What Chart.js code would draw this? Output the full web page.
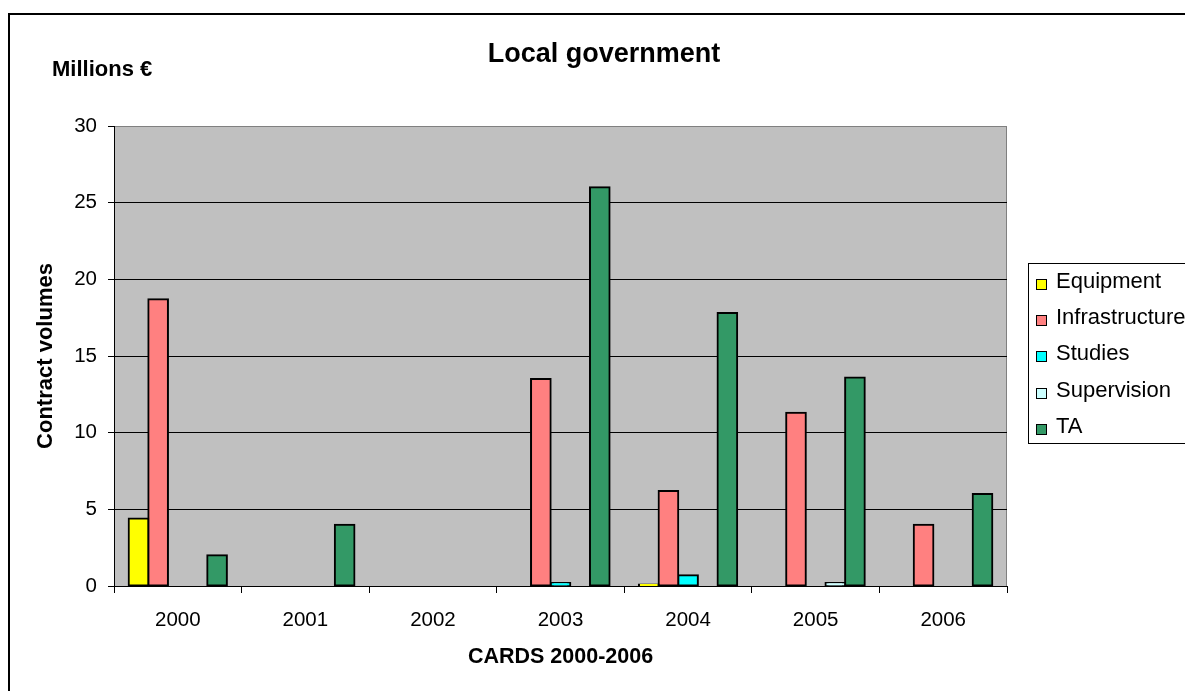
<!DOCTYPE html>
<html>
<head>
<meta charset="utf-8">
<title>Local government</title>
<script src="https://cdn.jsdelivr.net/npm/chart.js@4/dist/chart.umd.min.js"></script>
<style>
  html, body { margin: 0; padding: 0; background: #ffffff; }
  #wrap { width: 1185px; height: 691px; position: relative; }
</style>
</head>
<body>
<div id="wrap"><canvas id="chart" width="1185" height="691"></canvas></div>
<script>
// Contract volumes by year, millions of euros (null = no contract)
const categories = ['2000', '2001', '2002', '2003', '2004', '2005', '2006'];
const equipment      = [4.4, null, null, null, 0.1, null, null];
const infrastructure = [18.7, null, null, 13.5, 6.2, 11.3, 4.0];
const studies        = [null, null, null, 0.2, 0.7, null, null];
const supervision    = [null, null, null, null, null, 0.2, null];
const ta             = [2.0, 4.0, null, 26.0, 17.8, 13.6, 6.0];

const seriesNames  = ['Equipment', 'Infrastructure', 'Studies', 'Supervision', 'TA'];
const seriesValues = [equipment, infrastructure, studies, supervision, ta];
const seriesColors = ['#FFFF00', '#FF8080', '#00FFFF', '#CCFFFF', '#339966'];

const yTicks = { min: 0, max: 30, step: 5 };

const FONT = "'Liberation Sans', Arial, sans-serif";

// Page frame, plot background, title, unit label and legend box
const decorations = {
  id: 'decorations',
  beforeDraw(chart) {
    const { ctx, chartArea: a } = chart;
    ctx.save();
    ctx.fillStyle = '#ffffff';
    ctx.fillRect(0, 0, chart.width, chart.height);
    ctx.fillStyle = '#C0C0C0';
    ctx.fillRect(a.left, a.top, a.right - a.left, a.bottom - a.top);
    // plot border on the right
    ctx.strokeStyle = '#808080';
    ctx.lineWidth = 1;
    ctx.beginPath();
    ctx.moveTo(Math.round(a.right) - 0.5, a.top);
    ctx.lineTo(Math.round(a.right) - 0.5, a.bottom);
    ctx.stroke();
    ctx.restore();
  },
  afterDraw(chart) {
    const { ctx } = chart;
    ctx.save();
    // outer frame
    ctx.strokeStyle = '#000000';
    ctx.lineWidth = 2;
    ctx.strokeRect(9, 14, 1200, 700);

    // title
    ctx.fillStyle = '#000000';
    ctx.textAlign = 'center';
    ctx.textBaseline = 'alphabetic';
    ctx.font = 'bold 27px ' + FONT;
    ctx.fillText('Local government', 604, 62);

    // unit label
    ctx.textAlign = 'left';
    ctx.font = 'bold 22px ' + FONT;
    ctx.fillText('Millions €', 52, 76);

    // legend
    ctx.lineWidth = 1;
    ctx.strokeStyle = '#000000';
    ctx.strokeRect(1028.5, 263.5, 200, 180);
    ctx.font = '22px ' + FONT;
    ctx.textBaseline = 'middle';
    chart.data.datasets.forEach((ds, i) => {
      const cy = 281.5 + i * 36.4;
      const top = Math.round(cy - 3) + 0.5;
      ctx.fillStyle = ds.backgroundColor;
      ctx.fillRect(1036.5, top, 10, 10);
      ctx.strokeStyle = '#000000';
      ctx.strokeRect(1036.5, top, 10, 10);
      ctx.fillStyle = '#000000';
      ctx.fillText(ds.label, 1056, cy);
    });
    ctx.restore();
  }
};

const datasets = seriesNames.map((name, i) => ({
  label: name,
  data: seriesValues[i],
  backgroundColor: seriesColors[i],
  borderColor: '#000000',
  borderWidth: 2,
  borderSkipped: false,
  inflateAmount: 1,
  categoryPercentage: 0.77,
  barPercentage: 1.0
}));

new Chart(document.getElementById('chart'), {
  type: 'bar',
  data: { labels: categories, datasets },
  options: {
    responsive: false,
    animation: false,
    layout: { padding: { top: 126, right: 178, left: 0, bottom: 0 } },
    plugins: {
      legend: { display: false },
      title: { display: false },
      tooltip: { enabled: false }
    },
    scales: {
      x: {
        grid: {
          offset: true,
          drawOnChartArea: false,
          drawTicks: true,
          tickLength: 7,
          tickColor: '#000000',
          color: '#000000'
        },
        border: { display: true, color: '#000000', width: 1 },
        ticks: {
          color: '#000000',
          font: { family: FONT, size: 20.5 },
          padding: 15,
          maxRotation: 0
        },
        title: {
          display: true,
          text: 'CARDS 2000-2006',
          color: '#000000',
          font: { family: FONT, size: 21.5, weight: 'bold' },
          padding: { top: 0, bottom: 21 }
        },
        afterFit(scale) { scale.height = 105; }
      },
      y: {
        min: yTicks.min,
        max: yTicks.max,
        grid: {
          color: (c) => (c.tick && c.tick.value === yTicks.max ? '#808080' : '#000000'),
          lineWidth: 1,
          drawTicks: true,
          tickLength: 6,
          tickColor: '#000000'
        },
        border: { display: true, color: '#000000', width: 1 },
        ticks: {
          stepSize: yTicks.step,
          color: '#000000',
          font: { family: FONT, size: 20.5 },
          padding: 11
        },
        title: {
          display: true,
          text: 'Contract volumes',
          color: '#000000',
          font: { family: FONT, size: 22, weight: 'bold' },
          padding: { top: 33, bottom: 0 }
        },
        afterFit(scale) { scale.width = 114; }
      }
    }
  },
  plugins: [decorations]
});
</script>
</body>
</html>
